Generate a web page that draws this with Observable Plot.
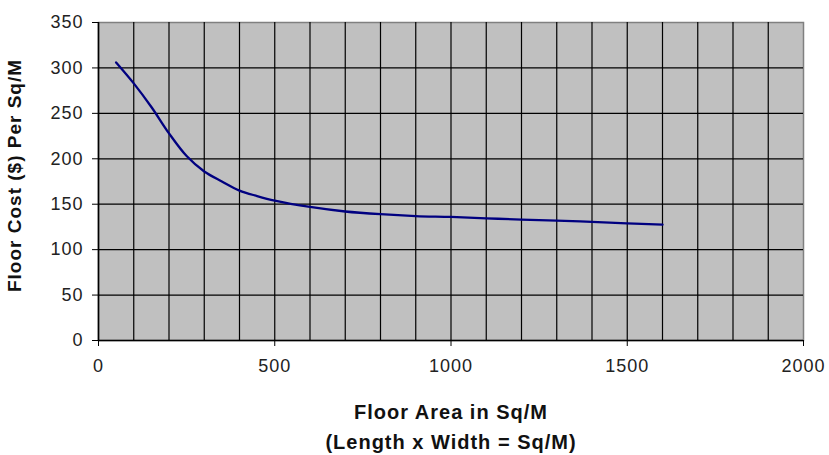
<!DOCTYPE html>
<html>
<head>
<meta charset="utf-8">
<script src="https://cdn.jsdelivr.net/npm/d3@7"></script>
<script src="https://cdn.jsdelivr.net/npm/@observablehq/plot@0.6"></script>
<style>
  body { margin: 0; background: #fff; }
  #chart svg { display: block; }
</style>
</head>
<body>
<div id="chart"></div>
<script>
const area = [50, 100, 150, 200, 250, 300, 350, 400, 450, 500, 600, 700, 800, 900, 1000, 1100, 1200, 1300, 1400, 1500, 1600];
const cost = [306, 283, 257, 228, 203, 186, 175, 165, 159, 154, 147, 142, 139, 137, 136, 134.5, 133, 132, 130.5, 129, 127.5];
const xTicks = [0, 500, 1000, 1500, 2000];
const yTicks = [0, 50, 100, 150, 200, 250, 300, 350];
const xGrid = d3.range(100, 2000, 100);
const yGrid = [50, 100, 150, 200, 250, 300];
const xTitle1 = "Floor Area in Sq/M";
const xTitle2 = "(Length x Width = Sq/M)";
const yTitle = "Floor Cost ($) Per Sq/M";

const data = area.map((a, i) => ({area: a, cost: cost[i]}));
const font = "Liberation Sans, Arial, sans-serif";

const chart = Plot.plot({
  width: 829,
  height: 455,
  marginLeft: 98,
  marginRight: 26,
  marginTop: 22,
  marginBottom: 115,
  style: {fontFamily: font, fontSize: "18px", color: "#222", background: "#fff"},
  x: {domain: [0, 2000]},
  y: {domain: [0, 350]},
  marks: [
    Plot.frame({fill: "#c0c0c0", stroke: "#808080", strokeWidth: 1.5}),
    Plot.ruleX(xGrid, {stroke: "#000", strokeWidth: 1.2}),
    Plot.ruleY(yGrid, {stroke: "#000", strokeWidth: 1.2}),
    Plot.ruleY([0], {stroke: "#000", strokeWidth: 1.6}),
    Plot.ruleX([0], {stroke: "#000", strokeWidth: 1.6}),
    Plot.axisX({ticks: xTicks, tickSize: 6, tickPadding: 13, label: null, fontSize: 18, stroke: "#000", fill: "#222", tickFormat: d => String(d)}),
    Plot.axisY({ticks: yTicks, tickSize: 6, tickPadding: 9, label: null, fontSize: 18, stroke: "#000", fill: "#222", tickFormat: d => String(d)}),
    Plot.line(data, {x: "area", y: "cost", stroke: "#000080", strokeWidth: 2.3, curve: "catmull-rom"}),
    Plot.text([xTitle1], {frameAnchor: "bottom", dy: 72, lineAnchor: "middle", textAnchor: "middle", fontWeight: "bold", fontSize: 20, fill: "#111"}),
    Plot.text([xTitle2], {frameAnchor: "bottom", dy: 102, lineAnchor: "middle", textAnchor: "middle", fontWeight: "bold", fontSize: 20, fill: "#111"}),
    Plot.text([yTitle], {frameAnchor: "left", dx: -78, dy: -6, rotate: -90, lineAnchor: "bottom", textAnchor: "middle", fontWeight: "bold", fontSize: 19, fill: "#111"})
  ]
});
d3.select(chart).selectAll("text").attr("letter-spacing", "1px");
document.getElementById("chart").appendChild(chart);
</script>
</body>
</html>
